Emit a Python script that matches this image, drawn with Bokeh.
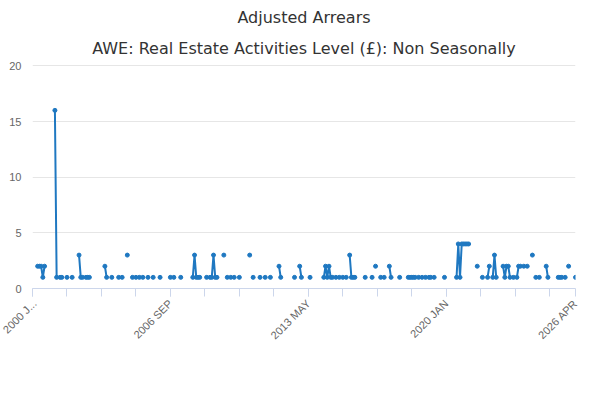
import numpy as np
from bokeh.plotting import figure
from bokeh.models import FixedTicker, Legend, LegendItem, Title, ColumnDataSource
from bokeh.embed import file_html
from bokeh.resources import INLINE

# month index since 2000 JAN, value
months = [3,4,5,6,7,13,14,16,17,20,23,27,28,29,31,32,33,42,43,46,50,52,55,58,60,62,64,67,70,74,
          80,82,86,93,94,95,96,97,101,103,104,105,106,107,111,113,115,117,120,126,128,132,135,138,
          143,144,152,155,156,161,169,170,171,172,173,174,176,178,180,182,184,185,186,187,193,197,199,
          202,204,207,208,213,218,219,220,221,222,224,226,228,230,231,233,239,246,247,248,249,250,251,252,253,
          258,261,264,265,267,268,269,273,274,275,276,277,279,281,282,283,285,287,290,292,294,298,299,
          305,306,307,309,311,315]
values = [2,2,2,1,2,16,1,1,1,1,1,3,1,1,1,1,1,2,1,1,1,1,3,1,1,1,1,1,1,1,
          1,1,1,1,3,1,1,1,1,1,1,3,1,1,3,1,1,1,1,3,1,1,1,1,
          2,1,1,2,1,1,1,2,1,2,1,1,1,1,1,1,3,1,1,1,1,1,2,
          1,1,2,1,1,1,1,1,1,1,1,1,1,1,1,1,1,1,4,1,4,4,4,4,4,
          2,1,1,2,1,3,1,2,1,2,2,1,1,1,2,2,2,2,3,1,1,2,1,
          1,1,1,1,2,1]
tick_pos = [0,80,160,240,315]
tick_labels = ["2000 J...","2006 SEP","2013 MAY","2020 JAN","2026 APR"]

series = np.full(316, np.nan)
for m, v in zip(months, values):
    series[m] = v
src_line = ColumnDataSource(dict(x=list(range(316)), y=series))
src_pts = ColumnDataSource(dict(x=months, y=values))

color = "#1f78c1"
p = figure(frame_width=543, frame_height=226, output_backend="svg", toolbar_location=None,
           x_range=(0, 315), y_range=(0, 20.3))
p.min_border_left = 32
p.min_border_right = 9
p.min_border_top = 4
p.min_border_bottom = 0
p.title.text = "Adjusted Arrears"
p.title.align = "center"
p.title.text_font = "DejaVu Sans"
p.title.text_font_size = "16px"
p.title.text_font_style = "normal"
p.title.text_color = "#333333"
p.add_layout(Title(text="AWE: Real Estate Activities Level (£): Non Seasonally", align="center",
                   text_font="DejaVu Sans", text_font_size="16px", text_font_style="normal",
                   text_color="#333333"), "above")

l = p.line("x", "y", source=src_line, line_color=color, line_width=2)
s = p.scatter("x", "y", source=src_pts, size=4, color=color)

p.xaxis.ticker = FixedTicker(ticks=tick_pos, minor_ticks=list(range(0, 316, 20)))
p.xaxis.major_label_overrides = dict(zip(tick_pos, tick_labels))
p.xaxis.major_label_orientation = 0.785
p.xaxis.major_label_text_font_size = "11px"
p.xaxis.major_label_text_color = "#666666"
p.xaxis.axis_line_color = "#ccd6eb"
p.xaxis.major_tick_line_color = "#ccd6eb"
p.xaxis.minor_tick_line_color = "#ccd6eb"
p.xaxis.minor_tick_out = 8
p.xaxis.major_tick_out = 8
p.xaxis.minor_tick_in = 0
p.xaxis.major_tick_in = 0
p.xgrid.grid_line_color = None

p.yaxis.ticker = FixedTicker(ticks=[0,5,10,15,20])
p.yaxis.axis_line_color = None
p.yaxis.major_tick_line_color = None
p.yaxis.minor_tick_line_color = None
p.yaxis.major_label_text_font_size = "11px"
p.yaxis.major_label_text_color = "#666666"
p.ygrid.grid_line_color = "#e6e6e6"
p.outline_line_color = None

legend = Legend(items=[LegendItem(label="AWE: Real Estate Activities Level (£): Non Seasonally Adjusted Arrears", renderers=[l, s])],
                location="center", orientation="horizontal", border_line_color=None,
                label_text_font_size="13px", label_text_font_style="bold", label_text_color="#333333",
                glyph_width=20, padding=0, margin=2)
p.add_layout(legend, "below")
p.add_layout(Title(text="Source:", align="right", text_font_size="12px", text_font_style="normal",
                   text_color="#666666"), "below")

open("out.html", "w").write(file_html(p, INLINE))
